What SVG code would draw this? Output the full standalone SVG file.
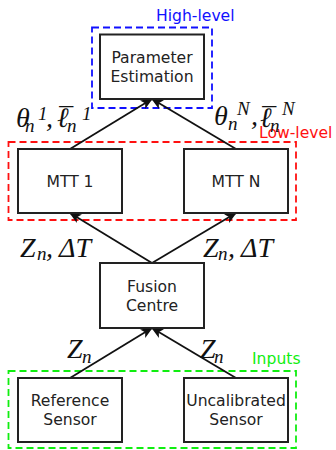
<svg xmlns="http://www.w3.org/2000/svg" width="336" height="450" viewBox="0 0 336 450">
<defs>
<style>
.box{fill:#fff;stroke:#222;stroke-width:2}
.lbl{font-family:"DejaVu Sans",sans-serif;font-size:15.6px;fill:#222;text-anchor:middle}
.grp{fill:none;stroke-width:1.8;stroke-dasharray:7 4}
.gl{font-family:"DejaVu Sans",sans-serif;font-size:15.6px}
.math{font-family:"Liberation Serif",serif;font-style:italic;font-size:28px;fill:#111}
.s{font-size:19px}
.edge{stroke:#111;stroke-width:1.8;fill:none;marker-end:url(#ah)}
</style>
<marker id="ah" viewBox="0 0 12 10" refX="11" refY="5" markerWidth="12" markerHeight="10" markerUnits="userSpaceOnUse" orient="auto">
<path d="M0,0 L12,5 L0,10 L3,5 z" fill="#111"/>
</marker>
</defs>
<g id="groups">
<rect x="92" y="27.5" width="120" height="80.5" class="grp" stroke="#1010ff"/>
<text x="156" y="21" class="gl" fill="#1010ff">High-level</text>
<rect x="8.5" y="142" width="287.5" height="78" class="grp" stroke="#ff1010"/>
<text x="259" y="138" class="gl" fill="#ff1010">Low-level</text>
<rect x="8.5" y="371" width="287.5" height="77" class="grp" stroke="#10ee10"/>
<text x="252" y="364" class="gl" fill="#10ee10">Inputs</text>
</g>
<g id="connectors">
<line x1="70" y1="149" x2="152" y2="99" class="edge"/>
<line x1="236" y1="149" x2="152" y2="99" class="edge"/>
<line x1="152" y1="263" x2="70" y2="213" class="edge"/>
<line x1="152" y1="263" x2="236" y2="213" class="edge"/>
<line x1="70" y1="378" x2="152" y2="328" class="edge"/>
<line x1="236" y1="378" x2="152" y2="328" class="edge"/>
</g>
<g id="labels">
<text class="math"><tspan x="16" y="127">θ</tspan><tspan class="s" x="25" y="132">n</tspan><tspan class="s" x="38" y="120">1</tspan><tspan x="46" y="127">,</tspan><tspan x="57" y="127">ℓ</tspan><tspan x="57" y="127">¯</tspan><tspan class="s" x="67" y="132">n</tspan><tspan class="s" x="82" y="120">1</tspan></text>
<text class="math"><tspan x="214" y="125">θ</tspan><tspan class="s" x="228" y="130">n</tspan><tspan class="s" x="237" y="115">N</tspan><tspan x="251" y="125">,</tspan><tspan x="260" y="127">ℓ</tspan><tspan x="260" y="127">¯</tspan><tspan class="s" x="270" y="132">n</tspan><tspan class="s" x="282" y="115">N</tspan></text>
<text class="math"><tspan x="20" y="257">Z</tspan><tspan class="s" x="37" y="260">n</tspan><tspan x="46" y="257">,</tspan><tspan x="59" y="257">ΔT</tspan></text>
<text class="math"><tspan x="203" y="257">Z</tspan><tspan class="s" x="218" y="260">n</tspan><tspan x="228" y="257">,</tspan><tspan x="241" y="257">ΔT</tspan></text>
<text class="math"><tspan x="67" y="358">Z</tspan><tspan class="s" x="82" y="363">n</tspan></text>
<text class="math"><tspan x="200" y="358">Z</tspan><tspan class="s" x="214" y="363">n</tspan></text>
</g>
<g id="param">
<rect x="100" y="34.5" width="104" height="64.5" class="box"/>
<text class="lbl"><tspan x="152" y="63">Parameter</tspan><tspan x="152" y="82">Estimation</tspan></text>
</g>
<g id="mtt1">
<rect x="18" y="149" width="104" height="64" class="box"/>
<text x="70" y="186.5" class="lbl">MTT 1</text>
</g>
<g id="mttn">
<rect x="184" y="149" width="104" height="64" class="box"/>
<text x="236" y="186.5" class="lbl">MTT N</text>
</g>
<g id="fusion">
<rect x="100" y="263" width="104" height="65" class="box"/>
<text class="lbl"><tspan x="152" y="291.5">Fusion</tspan><tspan x="152" y="310.5">Centre</tspan></text>
</g>
<g id="ref">
<rect x="18" y="378" width="104" height="64" class="box"/>
<text class="lbl"><tspan x="70" y="405.5">Reference</tspan><tspan x="70" y="424.5">Sensor</tspan></text>
</g>
<g id="uncal">
<rect x="184" y="378" width="104" height="64" class="box"/>
<text class="lbl"><tspan x="236" y="405.5">Uncalibrated</tspan><tspan x="236" y="424.5">Sensor</tspan></text>
</g>
</svg>
